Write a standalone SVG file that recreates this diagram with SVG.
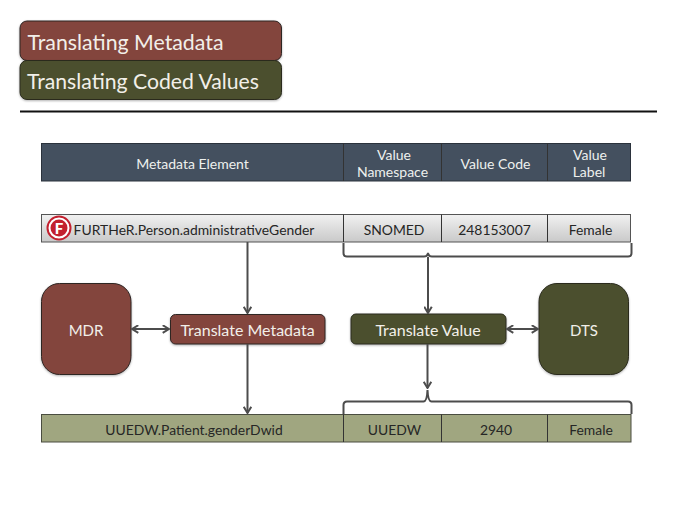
<svg xmlns="http://www.w3.org/2000/svg" width="675" height="507" viewBox="0 0 675 507">
<style>
text{font-family:Lato,"Noto Sans","Liberation Sans",sans-serif;text-anchor:middle}
.red{fill:#83443d;stroke:#2e2523;stroke-width:1}
.grn{fill:#4b4f2d;stroke:#2a2b1e;stroke-width:1}
.hd{fill:#44505f;stroke:#2b323c;stroke-width:1}
.hl{fill:#eef0ee;font-size:14px}
.lt{fill:#f2efe9}
.dk{fill:#262626;font-size:13.900px}
.r1{fill:url(#g1);stroke:#555;stroke-width:1}
.r3{fill:#a0a680;stroke:#4a4d40;stroke-width:1}
.cn{fill:none;stroke:#4c4c4c;stroke-width:2}
.div{stroke:#333;stroke-width:1}
</style>
<defs>
<linearGradient id="g1" x1="0" y1="0" x2="0" y2="1"><stop offset="0" stop-color="#f1f1f1"/><stop offset="1" stop-color="#c9c9c9"/></linearGradient>
<filter id="sh" x="-10%" y="-20%" width="120%" height="140%"><feDropShadow dx="0" dy="1" stdDeviation="1" flood-color="#000" flood-opacity=".3"/></filter>
<marker id="ah" viewBox="0 0 10 10" refX="9" refY="5" markerWidth="9" markerHeight="9" orient="auto-start-reverse" markerUnits="userSpaceOnUse"><path d="M2 0.8L9 5L2 9.200" fill="none" stroke="#4c4c4c" stroke-width="2.200"/></marker>
</defs>
<g id="legend-metadata"><rect class="red" x="20" y="21" width="261.500" height="39.500" rx="7" filter="url(#sh)"/><text class="lt" x="125.500" y="49.500" font-size="21.300">Translating Metadata</text></g>
<g id="legend-values"><rect class="grn" x="20" y="60.500" width="261.500" height="39" rx="7" filter="url(#sh)"/><text class="lt" x="143" y="89" font-size="21.200">Translating Coded Values</text></g>
<line x1="20" y1="111.500" x2="657" y2="111.500" stroke="#111" stroke-width="1.800"/>
<g id="header">
<rect class="hd" x="41.500" y="143.500" width="589" height="37.500"/>
<line class="div" x1="343.500" y1="143.500" x2="343.500" y2="181"/><line class="div" x1="441.500" y1="143.500" x2="441.500" y2="181"/><line class="div" x1="547.500" y1="143.500" x2="547.500" y2="181"/>
<text class="hl" x="192.500" y="169">Metadata Element</text>
<text class="hl" x="394" y="160">Value</text><text class="hl" x="392.500" y="177">Namespace</text>
<text class="hl" x="495.500" y="169">Value Code</text>
<text class="hl" x="590" y="160">Value</text><text class="hl" x="589" y="177">Label</text>
</g>
<g id="source-row">
<rect class="r1" x="41.500" y="214.500" width="589" height="27.500"/>
<line class="div" x1="343.500" y1="214.500" x2="343.500" y2="242"/><line class="div" x1="441.500" y1="214.500" x2="441.500" y2="242"/><line class="div" x1="547.500" y1="214.500" x2="547.500" y2="242"/>
<circle cx="59" cy="228" r="11.500" fill="#fff" stroke="#c3202f" stroke-width="2"/><circle cx="59" cy="228" r="8.500" fill="#c3202f"/>
<text x="59" y="233.500" fill="#fff" font-size="15" font-weight="900">F</text>
<text class="dk" x="194" y="234.500">FURTHeR.Person.administrativeGender</text>
<text class="dk" x="394" y="234.500">SNOMED</text><text class="dk" x="494.500" y="234.500">248153007</text><text class="dk" x="590.500" y="234.500">Female</text>
</g>
<g id="mdr"><rect class="red" x="41.500" y="283.500" width="89.500" height="91" rx="18" filter="url(#sh)"/><text class="lt" x="86" y="336" font-size="15">MDR</text></g>
<g id="translate-metadata"><rect class="red" x="170.500" y="314.500" width="154.500" height="29.500" rx="5" filter="url(#sh)"/><text class="lt" x="247.500" y="336" font-size="16">Translate Metadata</text></g>
<g id="translate-value"><rect class="grn" x="351" y="314" width="155" height="30" rx="5" filter="url(#sh)"/><text class="lt" x="428" y="335.500" font-size="16">Translate Value</text></g>
<g id="dts"><rect class="grn" x="539" y="283.500" width="89.500" height="91" rx="18" filter="url(#sh)"/><text class="lt" x="584" y="336" font-size="15">DTS</text></g>
<g id="target-row">
<rect class="r3" x="41.500" y="414.500" width="589.500" height="27.500"/>
<line class="div" x1="343.500" y1="414.500" x2="343.500" y2="442"/><line class="div" x1="441.500" y1="414.500" x2="441.500" y2="442"/><line class="div" x1="547.500" y1="414.500" x2="547.500" y2="442"/>
<text class="dk" x="194" y="435">UUEDW.Patient.genderDwid</text>
<text class="dk" x="394.500" y="435">UUEDW</text><text class="dk" x="496" y="435">2940</text><text class="dk" x="591" y="435">Female</text>
</g>
<g id="connectors">
<path class="cn" d="M247.500 242V313" marker-end="url(#ah)"/>
<path class="cn" d="M247.500 344V413" marker-end="url(#ah)"/>
<path class="cn" d="M428 257V313" marker-end="url(#ah)"/>
<path class="cn" d="M427.500 344V388" marker-end="url(#ah)"/>
<path class="cn" d="M132 329H169" marker-start="url(#ah)" marker-end="url(#ah)"/>
<path class="cn" d="M507 329H538" marker-start="url(#ah)" marker-end="url(#ah)"/>
<path class="cn" d="M343.500 243V253Q343.500 256.500 347 256.500H424Q427.500 256.500 428 253Q428.500 256.500 432 256.500H628Q631.500 256.500 631.500 253V243"/>
<path class="cn" d="M343.500 414V405Q343.500 401.500 347 401.500H423.500Q427 401.500 427.500 390Q428 401.500 431.500 401.500H628Q631.500 401.500 631.500 405V414"/>
</g>
</svg>
